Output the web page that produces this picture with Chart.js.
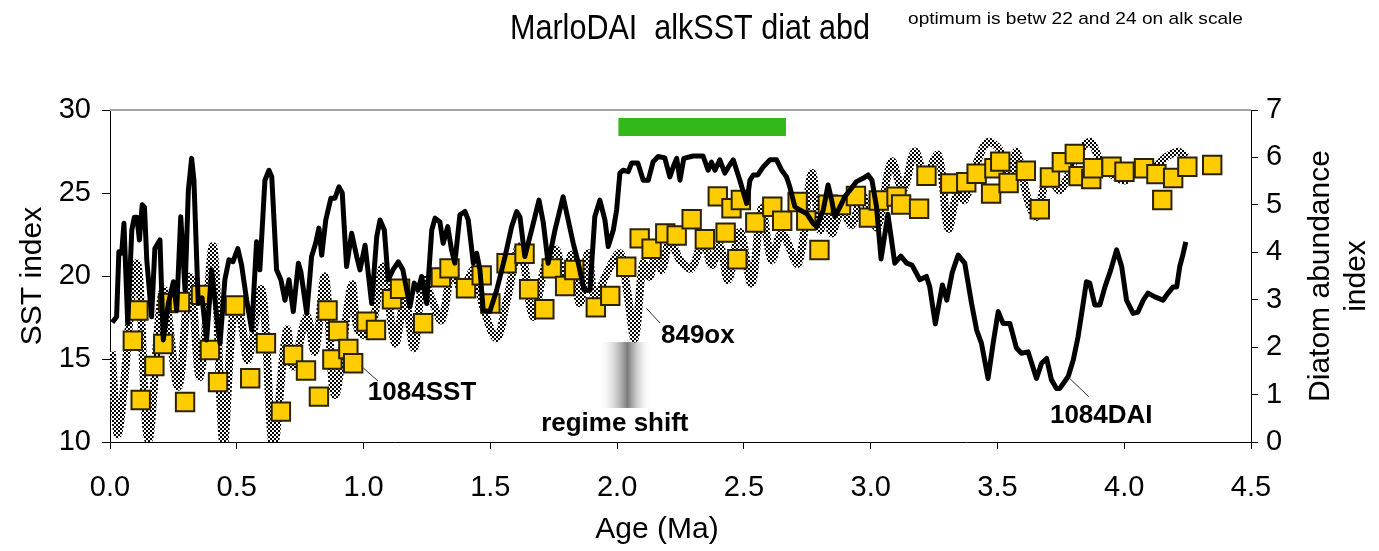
<!DOCTYPE html>
<html>
<head>
<meta charset="utf-8">
<title>MarloDAI alkSST diat abd</title>
<script src="https://cdn.jsdelivr.net/npm/chart.js@4.4.1/dist/chart.umd.min.js"></script>
<style>
html,body{margin:0;padding:0;background:#fff;}
#wrap{width:1379px;height:551px;}
</style>
</head>
<body>
<div id="wrap"><canvas id="myChart" width="1379" height="551"></canvas></div>
<script>
// 1084 diatom abundance index (right axis)
const daiAge = [0.009,0.026,0.035,0.046,0.055,0.070,0.086,0.096,0.106,0.116,0.127,0.136,0.145,0.164,0.177,0.197,0.210,0.230,0.250,0.263,
    0.279,0.296,0.309,0.322,0.331,0.348,0.363,0.381,0.401,0.421,0.434,0.453,0.469,0.485,0.504,0.519,0.539,0.559,0.578,0.591,
    0.611,0.627,0.638,0.657,0.674,0.690,0.706,0.723,0.743,0.753,0.776,0.795,0.811,0.824,0.835,0.851,0.871,0.887,0.903,0.916,
    0.933,0.953,0.973,0.986,1.006,1.032,1.052,1.065,1.082,1.097,1.116,1.137,1.155,1.183,1.200,1.215,1.229,1.249,1.269,1.282,
    1.301,1.314,1.332,1.347,1.360,1.380,1.400,1.413,1.433,1.446,1.459,1.472,1.498,1.525,1.558,1.584,1.604,1.617,1.636,1.663,
    1.692,1.709,1.728,1.755,1.787,1.807,1.827,1.847,1.870,1.893,1.912,1.932,1.952,1.965,1.985,1.998,2.011,2.024,2.044,2.057,
    2.082,2.103,2.123,2.142,2.162,2.188,2.208,2.224,2.235,2.248,2.263,2.300,2.339,2.359,2.372,2.386,2.405,2.425,2.439,2.458,
    2.484,2.511,2.524,2.537,2.555,2.576,2.603,2.629,2.649,2.668,2.681,2.701,2.721,2.747,2.773,2.787,2.813,2.832,2.846,2.859,
    2.879,2.898,2.918,2.944,2.970,2.990,3.005,3.023,3.041,3.068,3.095,3.119,3.142,3.163,3.194,3.220,3.233,3.255,3.283,3.300,
    3.322,3.345,3.371,3.398,3.418,3.437,3.463,3.483,3.503,3.522,3.549,3.575,3.595,3.621,3.654,3.674,3.694,3.713,3.733,3.746,
    3.779,3.799,3.818,3.838,3.851,3.864,3.884,3.904,3.924,3.947,3.970,3.990,4.009,4.035,4.054,4.075,4.094,4.121,4.153,4.173,
    4.193,4.207,4.219,4.231,4.243];
const daiVal = [2.52,2.64,4.01,3.98,4.61,2.50,4.47,4.74,4.74,4.26,5.00,4.95,3.84,2.64,4.08,4.26,2.15,2.92,3.38,2.78,
    4.75,3.20,5.31,5.98,5.52,2.92,3.04,2.15,3.63,2.64,2.08,3.42,3.84,3.80,4.08,3.73,2.99,2.36,4.22,3.63,
    5.52,5.73,5.59,3.63,3.42,2.99,3.42,2.75,3.77,3.58,2.71,3.91,4.19,4.51,3.94,4.68,5.14,5.14,5.38,5.25,
    3.70,4.40,3.91,3.63,4.15,2.92,4.33,4.68,4.47,3.42,3.63,3.80,3.63,2.85,3.35,3.20,3.49,2.92,4.47,4.72,
    4.64,4.19,4.54,4.05,3.77,4.79,4.86,4.68,3.77,3.98,3.63,2.78,2.75,3.20,3.91,4.54,4.86,4.74,3.91,4.47,
    5.10,4.62,3.77,4.47,5.17,4.68,4.19,3.77,3.20,3.20,4.75,5.10,4.68,4.12,4.47,4.89,5.67,5.73,5.70,5.88,
    5.88,5.52,5.52,5.91,6.02,5.99,5.59,5.84,5.98,5.52,5.98,6.03,6.03,5.73,5.90,5.73,5.95,5.67,5.80,5.95,
    5.52,5.03,5.52,5.63,5.63,5.80,5.95,5.95,5.73,5.59,5.38,4.96,4.89,4.82,4.61,4.54,4.89,5.42,5.10,4.75,
    4.96,5.17,5.31,5.49,5.56,5.63,5.52,4.96,3.86,4.80,3.77,3.92,3.77,3.73,3.42,3.49,3.27,2.49,3.31,2.99,
    3.58,3.94,3.77,2.92,2.36,2.08,1.34,2.08,2.75,2.50,2.50,1.98,1.87,1.90,1.34,1.66,1.76,1.31,1.13,1.13,
    1.38,1.73,2.22,2.92,3.38,3.35,2.89,2.89,3.27,3.63,4.05,3.70,2.99,2.71,2.74,2.99,3.14,3.06,2.99,3.14,
    3.27,3.27,3.70,3.94,4.22];

// 849 oxygen isotope record, plotted on the SST scale
const oxAge = [0.007,0.033,0.105,0.151,0.210,0.269,0.315,0.355,0.407,0.447,0.486,0.513,0.544,0.598,0.644,0.697,0.723,0.776,0.808,0.848,
    0.887,0.953,0.978,1.025,1.078,1.124,1.163,1.199,1.235,1.270,1.308,1.349,1.388,1.435,1.475,1.525,1.565,1.617,1.669,1.715,
    1.761,1.790,1.821,1.853,1.886,1.912,1.956,2.011,2.039,2.070,2.103,2.129,2.153,2.177,2.208,2.248,2.294,2.339,2.373,2.405,
    2.438,2.484,2.530,2.570,2.609,2.649,2.714,2.767,2.800,2.823,2.846,2.886,2.926,2.965,2.997,3.028,3.082,3.127,3.174,3.214,
    3.266,3.306,3.344,3.371,3.423,3.462,3.509,3.549,3.575,3.620,3.654,3.699,3.746,3.805,3.864,3.904,3.955,4.009,4.062,4.101,
    4.160,4.212,4.246];
const oxVal = [15.44,10.52,20.77,10.12,19.16,13.33,19.96,13.93,21.77,9.82,17.75,17.55,14.94,19.16,9.72,16.75,14.54,17.55,15.44,19.96,
    12.83,19.46,16.75,16.45,20.56,15.95,18.55,15.66,19.76,18.55,17.35,20.36,19.16,20.36,17.95,16.25,18.55,21.77,17.55,20.56,
    21.57,19.16,21.27,18.36,21.37,18.55,20.06,21.37,19.16,16.25,20.77,19.96,21.57,20.36,22.17,20.96,20.46,22.17,20.66,21.87,
    19.76,22.65,19.56,24.08,20.96,22.57,20.77,26.19,22.77,24.58,22.57,23.98,23.07,24.88,23.67,22.95,26.89,25.18,27.49,26.08,
    27.29,22.87,25.18,24.58,26.99,28.07,27.59,25.78,27.49,24.58,23.57,26.08,25.18,26.99,28.09,26.99,26.08,25.78,26.69,26.27,
    27.11,27.49,27.17];

// 1084 alkenone SST
const sstAge = [0.090,0.112,0.121,0.175,0.210,0.229,0.276,0.296,0.359,0.394,0.426,0.493,0.553,0.615,0.674,0.722,0.773,0.824,0.858,0.877,
    0.900,0.940,0.959,1.012,1.049,1.112,1.144,1.235,1.305,1.339,1.404,1.466,1.500,1.564,1.635,1.653,1.713,1.742,1.795,1.831,
    1.916,1.973,2.036,2.089,2.136,2.190,2.235,2.294,2.346,2.397,2.428,2.451,2.474,2.488,2.545,2.612,2.651,2.712,2.746,2.798,
    2.831,2.883,2.942,2.993,3.032,3.102,3.120,3.191,3.220,3.314,3.377,3.418,3.475,3.488,3.511,3.544,3.612,3.667,3.707,3.754,
    3.805,3.820,3.870,3.877,3.950,4.001,4.078,4.127,4.150,4.193,4.249,4.347];
const sstVal = [16.10,17.92,12.53,14.58,15.90,18.37,18.43,12.41,18.86,15.54,13.61,18.22,13.84,15.95,11.83,15.24,14.31,12.73,17.92,14.97,
    16.69,15.60,14.74,17.25,16.75,18.60,19.23,17.15,19.92,20.46,19.26,20.04,18.34,20.77,21.34,19.20,18.00,20.46,19.40,20.36,
    18.11,18.80,20.56,22.27,21.64,22.57,22.44,23.42,22.21,24.80,22.61,24.08,21.01,24.58,23.22,24.17,23.33,24.46,23.34,21.57,
    24.30,24.28,24.82,23.52,24.55,24.78,24.31,24.05,26.04,25.57,25.65,26.16,24.96,26.49,26.89,25.60,26.34,24.02,25.93,26.85,
    27.35,26.02,25.84,26.49,26.58,26.28,26.49,26.14,24.58,25.90,26.58,26.69];

// optimum window (green bar) and regime shift band
const optAge = [2.005, 2.666];
const optSst = [28.98, 28.98];
const shiftAge = [1.924, 2.137];
const shiftSst = [16.02, 12.05];

const font = 'Liberation Sans, Arial, Helvetica, sans-serif';

function pts(xs, ys) {
    var out = [];
    for (var i = 0; i < xs.length; i++) out.push({x: xs[i], y: ys[i]});
    return out;
}

function checker(ctx) {
    var c = document.createElement('canvas');
    c.width = 4; c.height = 4;
    var g = c.getContext('2d');
    g.fillStyle = '#fff'; g.fillRect(0, 0, 4, 4);
    g.fillStyle = '#000'; g.fillRect(0, 0, 2, 2); g.fillRect(2, 2, 2, 2);
    return ctx.createPattern(c, 'repeat');
}

// draws text squeezed to a given width (the original title font is condensed)
function fitText(ctx, txt, x, y, w) {
    var m = ctx.measureText(txt).width;
    ctx.save();
    ctx.translate(x, y);
    ctx.scale(w / m, 1);
    ctx.fillText(txt, 0, 0);
    ctx.restore();
}

const decorations = {
    id: 'decorations',
    beforeDatasetsDraw(chart) {
        const ctx = chart.ctx, a = chart.chartArea, x = chart.scales.x, y = chart.scales.y;
        ctx.save();
        // top frame line
        ctx.strokeStyle = '#a6a6a6';
        ctx.lineWidth = 2;
        ctx.beginPath();
        ctx.moveTo(a.left, a.top); ctx.lineTo(a.right, a.top);
        ctx.stroke();
        // regime shift band
        const x0 = x.getPixelForValue(shiftAge[0]), x1 = x.getPixelForValue(shiftAge[1]);
        const y0 = y.getPixelForValue(shiftSst[0]), y1 = y.getPixelForValue(shiftSst[1]);
        const g = ctx.createLinearGradient(x0, 0, x1, 0);
        g.addColorStop(0, 'rgba(255,255,255,0)');
        g.addColorStop(0.55, '#7a7a7a');
        g.addColorStop(1, 'rgba(255,255,255,0)');
        ctx.fillStyle = g;
        ctx.fillRect(x0, y0, x1 - x0, y1 - y0);
        ctx.restore();
    },
    afterDraw(chart) {
        const ctx = chart.ctx, x = chart.scales.x, y = chart.scales.y;
        ctx.save();
        ctx.fillStyle = '#000';

        // titles
        ctx.textBaseline = 'middle';
        ctx.textAlign = 'left';
        ctx.font = '35px ' + font;
        fitText(ctx, 'MarloDAI  alkSST diat abd', 510, 29, 360);
        ctx.font = '17px ' + font;
        fitText(ctx, 'optimum is betw 22 and 24 on alk scale', 908, 19, 335);

        // axis titles
        ctx.font = '30px ' + font;
        ctx.textAlign = 'center';
        ctx.fillText('Age (Ma)', 657, 530);
        ctx.save();
        ctx.translate(33, 276); ctx.rotate(-Math.PI / 2);
        ctx.fillText('SST index', 0, 0);
        ctx.restore();
        ctx.save();
        ctx.translate(1321, 276); ctx.rotate(-Math.PI / 2);
        ctx.fillText('Diatom abundance', 0, 0);
        ctx.fillText('index', 0, 36);
        ctx.restore();

        // series labels with leader lines
        ctx.strokeStyle = '#333';
        ctx.lineWidth = 1;
        function leader(ax, ay, bx, by) {
            ctx.beginPath();
            ctx.moveTo(x.getPixelForValue(ax), y.getPixelForValue(ay));
            ctx.lineTo(x.getPixelForValue(bx), y.getPixelForValue(by));
            ctx.stroke();
        }
        leader(0.990, 14.58, 1.057, 13.67);
        leader(2.116, 18.05, 2.169, 17.17);
        leader(3.778, 13.93, 3.860, 12.73);

        ctx.font = 'bold 26px ' + font;
        ctx.textAlign = 'left';
        ctx.fillText('1084SST', x.getPixelForValue(1.017), y.getPixelForValue(12.95));
        ctx.fillText('849ox', x.getPixelForValue(2.173), y.getPixelForValue(16.39));
        ctx.fillText('1084DAI', x.getPixelForValue(3.707), y.getPixelForValue(11.57));
        ctx.textAlign = 'center';
        ctx.fillText('regime shift', x.getPixelForValue(1.991), y.getPixelForValue(11.08));
        ctx.restore();
    }
};

document.addEventListener('DOMContentLoaded', function () {
    const ctx = document.getElementById('myChart').getContext('2d');
    const tickFont = {family: font, size: 29};

    window.myChart = new Chart(ctx, {
        type: 'line',
        data: {
            datasets: [
                {
                    label: '1084DAI',
                    data: pts(daiAge, daiVal),
                    yAxisID: 'y1',
                    borderColor: '#000',
                    borderWidth: 5,
                    borderJoinStyle: 'round',
                    pointRadius: 0,
                    fill: false,
                    tension: 0
                },
                {
                    label: '1084SST',
                    data: pts(sstAge, sstVal),
                    yAxisID: 'y',
                    showLine: false,
                    pointStyle: 'rect',
                    pointRadius: 13,
                    pointBackgroundColor: '#ffcc00',
                    pointBorderColor: '#2b2300',
                    pointBorderWidth: 2
                },
                {
                    label: '849ox',
                    data: pts(oxAge, oxVal),
                    yAxisID: 'y',
                    borderColor: checker(ctx),
                    borderWidth: 8,
                    borderJoinStyle: 'round',
                    pointRadius: 0,
                    fill: false,
                    tension: 0.35
                },
                {
                    label: 'optimum',
                    data: pts(optAge, optSst),
                    yAxisID: 'y',
                    borderColor: '#33b819',
                    borderWidth: 18,
                    borderCapStyle: 'butt',
                    pointRadius: 0,
                    fill: false
                }
            ]
        },
        options: {
            responsive: false,
            devicePixelRatio: 1,
            animation: false,
            layout: {padding: {top: 110, left: 0, right: 0, bottom: 0}},
            plugins: {legend: {display: false}, tooltip: {enabled: false}},
            scales: {
                x: {
                    type: 'linear',
                    min: 0, max: 4.5,
                    afterFit: function (s) { s.height = 109; },
                    border: {display: true, color: '#000', width: 1},
                    grid: {display: true, drawOnChartArea: false, drawTicks: true, tickLength: 7, color: '#000'},
                    ticks: {stepSize: 0.5, color: '#000', font: tickFont, padding: 22, maxRotation: 0,
                        callback: function (v) { return v.toFixed(1); }}
                },
                y: {
                    position: 'left',
                    min: 10, max: 30,
                    afterFit: function (s) { s.width = 110; },
                    border: {display: true, color: '#000', width: 1},
                    grid: {display: true, drawOnChartArea: false, drawTicks: true, tickLength: 8, color: '#000'},
                    ticks: {stepSize: 5, color: '#000', font: tickFont, padding: 11}
                },
                y1: {
                    position: 'right',
                    min: 0, max: 7,
                    afterFit: function (s) { s.width = 128; },
                    border: {display: true, color: '#000', width: 1},
                    grid: {display: true, drawOnChartArea: false, drawTicks: true, tickLength: 7, color: '#000'},
                    ticks: {stepSize: 1, color: '#000', font: tickFont, padding: 8}
                }
            }
        },
        plugins: [decorations]
    });
});
</script>
</body>
</html>
